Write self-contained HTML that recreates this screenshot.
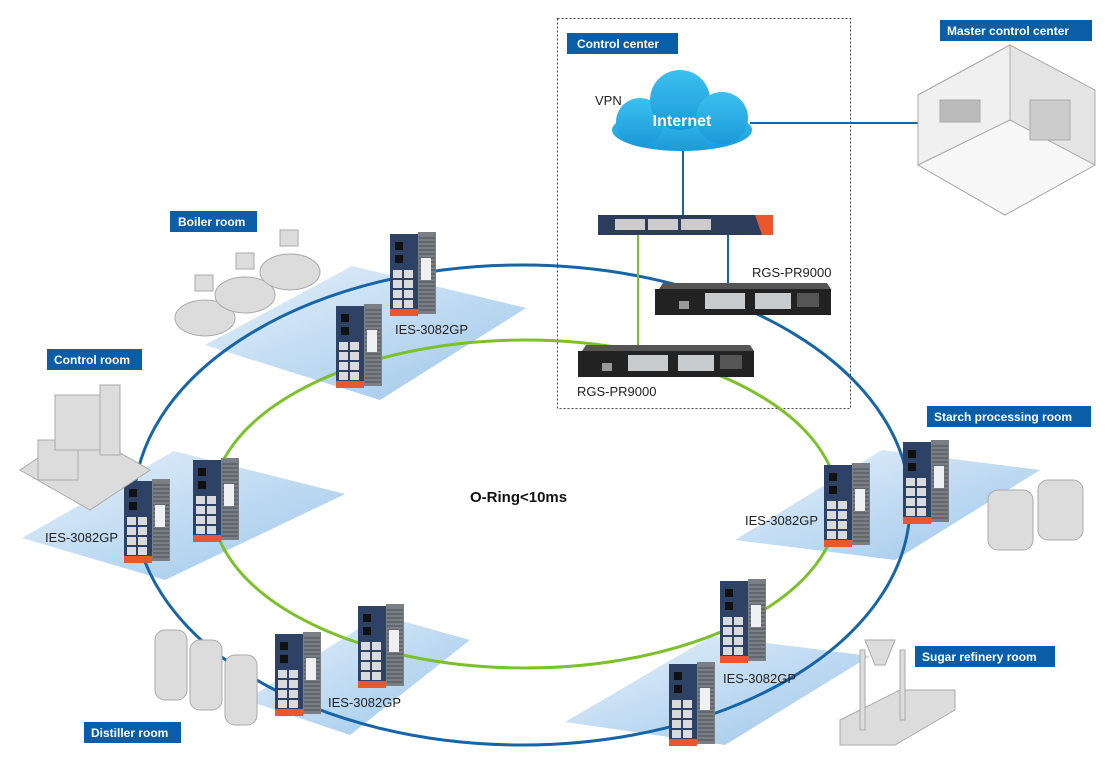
<!DOCTYPE html>
<html><head><meta charset="utf-8"><style>
html,body{margin:0;padding:0;background:#fff;}
svg{display:block;font-family:"Liberation Sans",Arial,sans-serif;}
</style></head><body>
<svg width="1110" height="776" viewBox="0 0 1110 776" xmlns="http://www.w3.org/2000/svg">
<defs>
<linearGradient id="pl" x1="0" y1="0" x2="1" y2="1">
<stop offset="0" stop-color="#e6f1fb"/><stop offset="1" stop-color="#9cc6ea"/></linearGradient>
<linearGradient id="cl" x1="0" y1="0" x2="0" y2="1">
<stop offset="0" stop-color="#3cc0f0"/><stop offset="1" stop-color="#1a9ad8"/></linearGradient>
<g id="sw">
<rect x="28" y="2" width="18" height="82" fill="#7a7f86"/>
<g stroke="#4a4e54" stroke-width="1">
<line x1="29" y1="8" x2="45" y2="8"/><line x1="29" y1="12" x2="45" y2="12"/><line x1="29" y1="16" x2="45" y2="16"/><line x1="29" y1="20" x2="45" y2="20"/><line x1="29" y1="24" x2="45" y2="24"/><line x1="29" y1="28" x2="45" y2="28"/><line x1="29" y1="32" x2="45" y2="32"/><line x1="29" y1="36" x2="45" y2="36"/><line x1="29" y1="40" x2="45" y2="40"/><line x1="29" y1="44" x2="45" y2="44"/><line x1="29" y1="48" x2="45" y2="48"/><line x1="29" y1="52" x2="45" y2="52"/><line x1="29" y1="56" x2="45" y2="56"/><line x1="29" y1="60" x2="45" y2="60"/><line x1="29" y1="64" x2="45" y2="64"/><line x1="29" y1="68" x2="45" y2="68"/><line x1="29" y1="72" x2="45" y2="72"/><line x1="29" y1="76" x2="45" y2="76"/><line x1="29" y1="80" x2="45" y2="80"/>
</g>
<rect x="31" y="28" width="10" height="22" fill="#eef0f2"/>
<rect x="0" y="4" width="28" height="82" fill="#2d4264"/>
<rect x="5" y="12" width="8" height="8" fill="#111"/>
<rect x="5" y="25" width="8" height="8" fill="#111"/>
<g fill="#d8dadc">
<rect x="3" y="40" width="9" height="8"/><rect x="14" y="40" width="9" height="8"/>
<rect x="3" y="50" width="9" height="8"/><rect x="14" y="50" width="9" height="8"/>
<rect x="3" y="60" width="9" height="8"/><rect x="14" y="60" width="9" height="8"/>
<rect x="3" y="70" width="9" height="8"/><rect x="14" y="70" width="9" height="8"/>
</g>
<rect x="0" y="79" width="28" height="7" fill="#e8582c"/>
</g>
<g id="rgs">
<polygon points="8,0 172,0 176,6 4,6" fill="#555"/>
<rect x="0" y="6" width="176" height="26" fill="#222"/>
<g fill="#c8cacc">
<rect x="50" y="10" width="40" height="16"/><rect x="100" y="10" width="36" height="16"/></g>
<rect x="142" y="10" width="22" height="14" fill="#555"/>
<rect x="24" y="18" width="10" height="8" fill="#999"/>
</g>
</defs>

<rect x="557.5" y="18.5" width="293" height="390" fill="none" stroke="#444" stroke-width="1" stroke-dasharray="2,2"/>

<polygon points="205,345 352,266 526,308 380,400" fill="url(#pl)"/>
<polygon points="22,538 174,451 345,494 165,580" fill="url(#pl)"/>
<polygon points="735,540 882,450 1040,470 895,560" fill="url(#pl)"/>
<polygon points="565,722 712,636 870,656 725,745" fill="url(#pl)"/>
<polygon points="246,700 380,615 470,640 350,735" fill="url(#pl)"/>

<ellipse cx="522" cy="505" rx="388" ry="240" fill="none" stroke="#1565a8" stroke-width="3"/>
<ellipse cx="525" cy="504" rx="313" ry="164" fill="none" stroke="#7cc12a" stroke-width="3"/>

<line x1="750" y1="123" x2="920" y2="123" stroke="#1565a8" stroke-width="2"/>
<line x1="683" y1="150" x2="683" y2="216" stroke="#1565a8" stroke-width="2"/>
<line x1="638" y1="234" x2="638" y2="348" stroke="#7cc12a" stroke-width="2"/>
<line x1="728" y1="234" x2="728" y2="284" stroke="#1565a8" stroke-width="2"/>

<g fill="url(#cl)">
<ellipse cx="682" cy="130" rx="70" ry="21"/>
<circle cx="640" cy="122" r="24"/>
<circle cx="680" cy="100" r="30"/>
<circle cx="722" cy="118" r="26"/>
</g>
<text x="682" y="126" font-size="16" font-weight="bold" fill="#fff" text-anchor="middle">Internet</text>
<text x="595" y="105" font-size="13" fill="#222">VPN</text>

<rect x="598" y="215" width="175" height="20" fill="#2d3c5a"/>
<g fill="#ccc"><rect x="615" y="219" width="30" height="11"/><rect x="648" y="219" width="30" height="11"/><rect x="681" y="219" width="30" height="11"/></g>
<polygon points="755,215 773,215 773,235 762,235" fill="#e8582c"/>

<use href="#rgs" x="655" y="283"/>
<use href="#rgs" x="578" y="345"/>
<text x="752" y="277" font-size="13" fill="#222">RGS-PR9000</text>
<text x="577" y="396" font-size="13" fill="#222">RGS-PR9000</text>

<use href="#sw" x="390" y="230"/>
<use href="#sw" x="336" y="302"/>
<use href="#sw" x="193" y="456"/>
<use href="#sw" x="124" y="477"/>
<use href="#sw" x="824" y="461"/>
<use href="#sw" x="903" y="438"/>
<use href="#sw" x="720" y="577"/>
<use href="#sw" x="358" y="602"/>
<use href="#sw" x="275" y="630"/>
<use href="#sw" x="669" y="660"/>

<g font-size="13" fill="#222">
<text x="395" y="334">IES-3082GP</text>
<text x="45" y="542">IES-3082GP</text>
<text x="745" y="525">IES-3082GP</text>
<text x="328" y="707">IES-3082GP</text>
<text x="723" y="683">IES-3082GP</text>
</g>
<text x="470" y="502" font-size="15" font-weight="bold" fill="#111">O-Ring&lt;10ms</text>

<g fill="#dcdcdc" stroke="#aaa" stroke-width="1">
<polygon points="918,95 1010,45 1095,90 1095,165 1005,215 918,165" fill="#e4e4e4"/>
<polygon points="918,95 1010,45 1010,120 918,165" fill="#f0f0f0"/>
<polygon points="1010,120 1095,165 1005,215 918,165" fill="#f7f7f7"/>
<rect x="940" y="100" width="40" height="22" fill="#bbb"/><rect x="1030" y="100" width="40" height="40" fill="#ccc"/>
<ellipse cx="205" cy="318" rx="30" ry="18"/><ellipse cx="245" cy="295" rx="30" ry="18"/><ellipse cx="290" cy="272" rx="30" ry="18"/>
<rect x="195" y="275" width="18" height="16"/><rect x="236" y="253" width="18" height="16"/><rect x="280" y="230" width="18" height="16"/>
<polygon points="20,470 80,430 150,470 90,510"/>
<rect x="38" y="440" width="40" height="40"/><rect x="55" y="395" width="55" height="55"/><rect x="100" y="385" width="20" height="70"/>
<rect x="988" y="490" width="45" height="60" rx="10"/><rect x="1038" y="480" width="45" height="60" rx="10"/>
<polygon points="840,720 900,690 955,690 955,710 895,745 840,745"/>
<rect x="860" y="650" width="5" height="80"/><rect x="900" y="650" width="5" height="70"/><polygon points="865,640 895,640 885,665 875,665"/>
<rect x="155" y="630" width="32" height="70" rx="10"/><rect x="190" y="640" width="32" height="70" rx="10"/><rect x="225" y="655" width="32" height="70" rx="10"/>
</g>

<g font-size="12" font-weight="bold" fill="#fff">
<rect x="567" y="33" width="111" height="21" fill="#0a5ea8"/><text x="577" y="48">Control center</text>
<rect x="940" y="20" width="152" height="21" fill="#0a5ea8"/><text x="947" y="35">Master control center</text>
<rect x="170" y="211" width="87" height="21" fill="#0a5ea8"/><text x="178" y="226">Boiler room</text>
<rect x="47" y="349" width="95" height="21" fill="#0a5ea8"/><text x="54" y="364">Control room</text>
<rect x="927" y="406" width="164" height="21" fill="#0a5ea8"/><text x="934" y="421">Starch processing room</text>
<rect x="915" y="646" width="140" height="21" fill="#0a5ea8"/><text x="922" y="661">Sugar refinery room</text>
<rect x="84" y="722" width="97" height="21" fill="#0a5ea8"/><text x="91" y="737">Distiller room</text>
</g>
</svg>
</body></html>
